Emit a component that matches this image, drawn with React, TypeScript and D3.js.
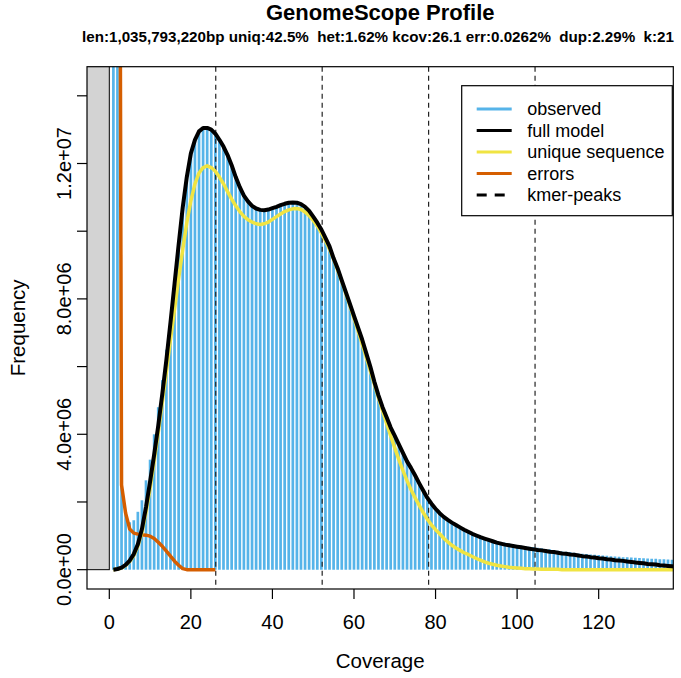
import React from 'react';
import * as d3 from 'd3';

// k-mer coverage (x) for the observed histogram and model curves
const coverage = d3.range(1, 140);

// observed k-mer frequencies, in millions
const observed = [
  160, 45, 2.9, 1.75, 1.4, 1.46, 1.71, 2.05, 2.64, 3.25,
  4.0, 4.8, 5.6, 6.5, 7.45, 8.5, 9.6, 10.7, 11.6, 12.3,
  12.7, 12.95, 13.05, 13.05, 13.0, 12.88, 12.7, 12.5, 12.25, 11.95,
  11.6, 11.3, 11.05, 10.88, 10.75, 10.67, 10.63, 10.62, 10.64, 10.68,
  10.72, 10.77, 10.81, 10.84, 10.85, 10.84, 10.8, 10.72, 10.6, 10.43,
  10.25, 10.05, 9.8, 9.55, 9.2, 8.9, 8.55, 8.2, 7.85, 7.5,
  7.15, 6.8, 6.4, 6.0, 5.55, 5.15, 4.8, 4.5, 4.2, 3.95,
  3.7, 3.45, 3.2, 3.0, 2.78, 2.55, 2.33, 2.12, 1.95, 1.8,
  1.67, 1.56, 1.47, 1.39, 1.32, 1.25, 1.19, 1.13, 1.08, 1.03,
  0.99, 0.95, 0.91, 0.88, 0.85, 0.82, 0.8, 0.77, 0.75, 0.73,
  0.71, 0.7, 0.68, 0.67, 0.65, 0.63, 0.61, 0.6, 0.58, 0.56,
  0.54, 0.53, 0.52, 0.5, 0.48, 0.47, 0.46, 0.45, 0.44, 0.43,
  0.42, 0.41, 0.4, 0.39, 0.38, 0.37, 0.365, 0.36, 0.35, 0.345,
  0.34, 0.33, 0.325, 0.32, 0.31, 0.305, 0.3, 0.295, 0.29,
];

// full model, in millions
const fullModel = [
  0.0, 0.02, 0.06, 0.14, 0.27, 0.46, 0.75, 1.2, 1.85, 2.6,
  3.4, 4.25, 5.2, 6.2, 7.3, 8.45, 9.6, 10.7, 11.6, 12.3,
  12.7, 12.95, 13.05, 13.05, 13.0, 12.88, 12.7, 12.5, 12.25, 11.95,
  11.6, 11.3, 11.05, 10.88, 10.75, 10.67, 10.63, 10.62, 10.64, 10.68,
  10.72, 10.77, 10.81, 10.84, 10.85, 10.84, 10.8, 10.72, 10.6, 10.43,
  10.25, 10.05, 9.8, 9.55, 9.2, 8.9, 8.55, 8.2, 7.85, 7.5,
  7.15, 6.8, 6.4, 6.0, 5.55, 5.15, 4.8, 4.5, 4.2, 3.95,
  3.7, 3.45, 3.2, 3.0, 2.78, 2.55, 2.33, 2.12, 1.95, 1.8,
  1.67, 1.56, 1.47, 1.39, 1.32, 1.25, 1.18, 1.12, 1.06, 1.01,
  0.96, 0.92, 0.88, 0.84, 0.8, 0.77, 0.74, 0.72, 0.7, 0.68,
  0.66, 0.64, 0.62, 0.6, 0.58, 0.57, 0.55, 0.53, 0.52, 0.5,
  0.48, 0.47, 0.45, 0.44, 0.42, 0.4, 0.39, 0.37, 0.36, 0.34,
  0.33, 0.31, 0.3, 0.28, 0.27, 0.26, 0.24, 0.23, 0.21, 0.2,
  0.19, 0.17, 0.16, 0.15, 0.13, 0.12, 0.11, 0.1, 0.09,
];

// unique sequence, in millions
const uniqueSequence = [
  0.0, 0.02, 0.05, 0.12, 0.24, 0.42, 0.7, 1.1, 1.7, 2.4,
  3.2, 4.05, 4.95, 5.85, 6.8, 7.7, 8.6, 9.45, 10.25, 10.9,
  11.4, 11.72, 11.88, 11.93, 11.88, 11.77, 11.6, 11.4, 11.17, 10.95,
  10.75, 10.58, 10.44, 10.34, 10.27, 10.22, 10.2, 10.22, 10.27, 10.35,
  10.43, 10.51, 10.58, 10.63, 10.66, 10.67, 10.64, 10.57, 10.46, 10.32,
  10.15, 9.95, 9.72, 9.47, 9.18, 8.85, 8.52, 8.16, 7.8, 7.43,
  7.05, 6.67, 6.28, 5.88, 5.48, 5.08, 4.7, 4.32, 3.95, 3.6,
  3.25, 2.93, 2.63, 2.36, 2.12, 1.9, 1.68, 1.49, 1.32, 1.18,
  1.06, 0.93, 0.82, 0.72, 0.64, 0.57, 0.5, 0.45, 0.39, 0.33,
  0.28, 0.23, 0.19, 0.16, 0.13, 0.11, 0.09, 0.07, 0.06, 0.05,
  0.04, 0.03, 0.03, 0.02, 0.02, 0.01, 0.01, 0.01, 0.01, 0.01,
  0.0, 0.0, 0.0, 0.0, 0.0, 0.0, 0.0, 0.0, 0.0, 0.0,
  0.0, 0.0, 0.0, 0.0, 0.0, 0.0, 0.0, 0.0, 0.0, 0.0,
  0.0, 0.0, 0.0, 0.0, 0.0, 0.0, 0.0, 0.0, 0.0,
];

// error k-mers, in millions
const errorCoverage = d3.range(1, 27);
const errorKmers = [
  400, 47, 2.5, 1.67, 1.2, 1.08, 1.05, 1.03, 1.02, 0.99,
  0.92, 0.81, 0.69, 0.55, 0.4, 0.25, 0.13, 0.03, 0, 0,
  0, 0, 0, 0, 0, 0,
];

const kmerPeaks = [26.1, 52.2, 78.3, 104.4];
const xTicks = [0, 20, 40, 60, 80, 100, 120];
const yTicks = [0, 2, 4, 6, 8, 10, 12, 14];
const yTickLabels = ['0.0e+00', '', '4.0e+06', '', '8.0e+06', '', '1.2e+07', ''];
const legendLabels = ['observed', 'full model', 'unique sequence', 'errors', 'kmer-peaks'];
const legendColors = ['#56B4E9', '#000000', '#F0E442', '#D55E00', '#000000'];

const title = 'GenomeScope Profile';
const subtitle = 'len:1,035,793,220bp uniq:42.5%  het:1.62% kcov:26.1 err:0.0262%  dup:2.29%  k:21';

const COLOR_HIST = '#56B4E9';
const COLOR_MODEL = '#000000';
const COLOR_UNIQUE = '#F0E442';
const COLOR_ERRORS = '#D55E00';
const FONT = '"Liberation Sans", Arial, Helvetica, sans-serif';

const W = 681;
const H = 678;
const plot = { left: 87, right: 673.3, top: 66.7, bottom: 589 };

const App: React.FC = () => {
  const x = d3.scaleLinear().domain([-5.47, 138.3]).range([plot.left, plot.right]);
  const y = d3.scaleLinear().domain([-0.571, 14.86]).range([plot.bottom, plot.top]);

  const line = d3
    .line<[number, number]>()
    .x((d) => x(d[0]))
    .y((d) => y(d[1]));

  const modelPts = coverage.map((c, i) => [c, fullModel[i]] as [number, number]);
  const uniquePts = coverage.map((c, i) => [c, uniqueSequence[i]] as [number, number]);
  const errorPts = errorCoverage.map((c, i) => [c, errorKmers[i]] as [number, number]);

  const legend = { left: 461.7, right: 672.3, top: 85.7, bottom: 215.7 };
  const legendRowY = (i: number) => 109 + i * 21.5;

  return (
    <div style={{ position: 'absolute', left: 0, top: 0, background: '#fff' }}>
      <svg width={W} height={H} fontFamily={FONT} style={{ display: 'block' }}>
        <rect x={0} y={0} width={W} height={H} fill="#fff" />
        <defs>
          <clipPath id="plot-clip">
            <rect
              x={plot.left}
              y={plot.top}
              width={plot.right - plot.left}
              height={plot.bottom - plot.top}
            />
          </clipPath>
        </defs>

        {/* title */}
        <text x={380.2} y={20} textAnchor="middle" fontSize={22} fontWeight="bold">
          {title}
        </text>
        <text
          x={378}
          y={42}
          textAnchor="middle"
          fontSize={15.3}
          fontWeight="bold"
          textLength={592}
          lengthAdjust="spacingAndGlyphs"
          style={{ whiteSpace: 'pre' }}
        >
          {subtitle}
        </text>

        <g clipPath="url(#plot-clip)">
          {/* background rect left of zero */}
          <rect
            x={x(-10)}
            y={plot.top - 10}
            width={x(0) - x(-10)}
            height={y(0) - plot.top + 10}
            fill="#D3D3D3"
            stroke="#000"
            strokeWidth={1}
          />
          {/* observed histogram */}
          {coverage.map((c, i) => (
            <line
              key={c}
              x1={x(c)}
              x2={x(c)}
              y1={y(0)}
              y2={y(observed[i])}
              stroke={COLOR_HIST}
              strokeWidth={2.7}
            />
          ))}
          {/* kmer peaks */}
          {kmerPeaks.map((p) => (
            <line
              key={p}
              x1={x(p)}
              x2={x(p)}
              y1={plot.top}
              y2={plot.bottom}
              stroke="#222"
              strokeWidth={1.2}
              strokeDasharray="5,4"
            />
          ))}
          <path d={line(errorPts) || ''} fill="none" stroke={COLOR_ERRORS} strokeWidth={3.5} strokeLinejoin="round" />
          <path d={line(uniquePts) || ''} fill="none" stroke={COLOR_UNIQUE} strokeWidth={3.5} strokeLinejoin="round" />
          <path d={line(modelPts) || ''} fill="none" stroke={COLOR_MODEL} strokeWidth={4} strokeLinejoin="round" />
        </g>

        {/* box */}
        <rect
          x={plot.left}
          y={plot.top}
          width={plot.right - plot.left}
          height={plot.bottom - plot.top}
          fill="none"
          stroke="#000"
          strokeWidth={1.2}
        />

        {/* x axis */}
        {xTicks.map((t) => (
          <g key={t}>
            <line x1={x(t)} x2={x(t)} y1={plot.bottom} y2={plot.bottom + 10} stroke="#000" strokeWidth={1.2} />
            <text x={x(t)} y={628.5} textAnchor="middle" fontSize={20}>
              {t}
            </text>
          </g>
        ))}
        <text x={380.2} y={668} textAnchor="middle" fontSize={20.5}>
          Coverage
        </text>

        {/* y axis */}
        {yTicks.map((t, i) => (
          <g key={t}>
            <line x1={plot.left - 10} x2={plot.left} y1={y(t)} y2={y(t)} stroke="#000" strokeWidth={1.2} />
            {yTickLabels[i] && (
              <text
                transform={`translate(71,${y(t)}) rotate(-90)`}
                textAnchor="middle"
                fontSize={20}
              >
                {yTickLabels[i]}
              </text>
            )}
          </g>
        ))}
        <text transform={`translate(25,${(plot.top + plot.bottom) / 2}) rotate(-90)`} textAnchor="middle" fontSize={20.5}>
          Frequency
        </text>

        {/* legend */}
        <rect
          x={legend.left}
          y={legend.top}
          width={legend.right - legend.left}
          height={legend.bottom - legend.top}
          fill="#fff"
          stroke="#000"
          strokeWidth={1.2}
        />
        {legendLabels.map((label, i) => (
          <g key={label}>
            <line
              x1={476.7}
              x2={511.7}
              y1={legendRowY(i)}
              y2={legendRowY(i)}
              stroke={legendColors[i]}
              strokeWidth={3}
              strokeDasharray={i === 4 ? '10,8' : undefined}
            />
            <text x={527.3} y={legendRowY(i)} dy="0.35em" fontSize={18}>
              {label}
            </text>
          </g>
        ))}
      </svg>
    </div>
  );
};

export default App;
